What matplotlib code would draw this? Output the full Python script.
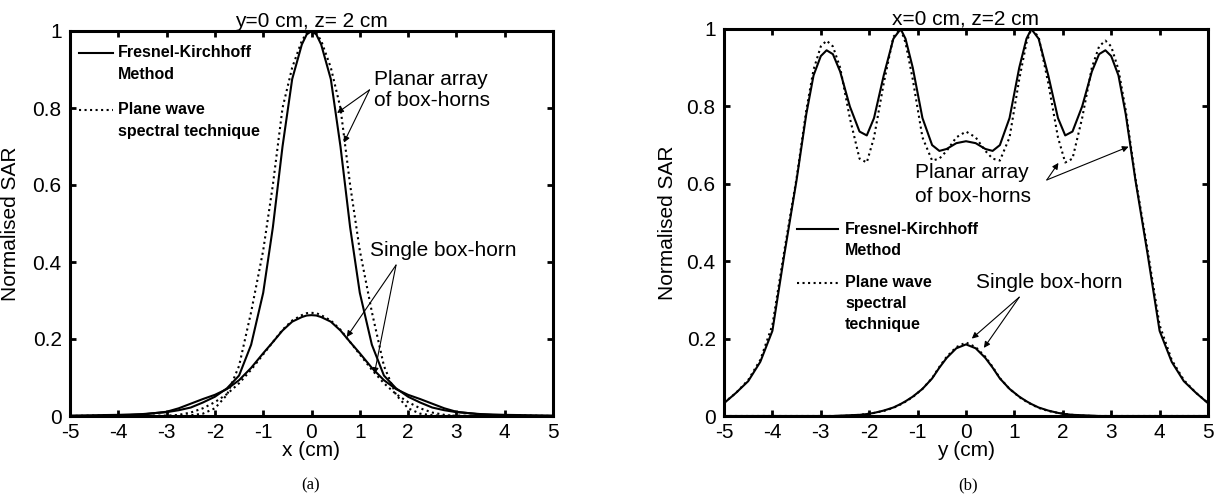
import matplotlib
matplotlib.use("Agg")
import matplotlib.pyplot as plt

# ---------------- data: panel (a), cut along x (y=0, z=2 cm) ----------------
xa = [-5.0, -4.5, -4.0, -3.5, -3.0, -2.75, -2.5, -2.25, -2.0, -1.75, -1.5, -1.25,
      -1.0, -0.8, -0.6, -0.4, -0.2, -0.1, 0.0, 0.1, 0.2, 0.4, 0.6, 0.8, 1.0,
      1.25, 1.5, 1.75, 2.0, 2.25, 2.5, 2.75, 3.0, 3.5, 4.0, 4.5, 5.0]
a_array_fk = [0.001, 0.002, 0.003, 0.005, 0.010, 0.015, 0.022, 0.035, 0.050, 0.072, 0.105, 0.185,
              0.320, 0.490, 0.700, 0.875, 0.965, 0.991, 1.000, 0.991, 0.965, 0.875, 0.700, 0.490, 0.320,
              0.185, 0.105, 0.072, 0.050, 0.035, 0.022, 0.015, 0.010, 0.005, 0.003, 0.002, 0.001]
a_array_pw = [0.000, 0.001, 0.002, 0.000, 0.001, 0.000, 0.002, 0.006, 0.020, 0.055, 0.130, 0.270,
              0.430, 0.600, 0.800, 0.905, 0.975, 0.994, 1.000, 0.994, 0.975, 0.905, 0.800, 0.600, 0.430,
              0.270, 0.130, 0.055, 0.020, 0.006, 0.002, 0.000, 0.001, 0.000, 0.002, 0.001, 0.000]
a_single_fk = [0.000, 0.000, 0.001, 0.004, 0.011, 0.020, 0.032, 0.044, 0.055, 0.070, 0.093, 0.125,
               0.163, 0.192, 0.222, 0.245, 0.257, 0.261, 0.262, 0.261, 0.257, 0.245, 0.222, 0.192, 0.163,
               0.125, 0.093, 0.070, 0.055, 0.044, 0.032, 0.020, 0.011, 0.004, 0.001, 0.000, 0.000]
a_single_pw = [0.000, 0.000, 0.000, 0.001, 0.000, 0.003, 0.009, 0.020, 0.036, 0.057, 0.085, 0.120,
               0.160, 0.192, 0.224, 0.248, 0.262, 0.267, 0.268, 0.267, 0.262, 0.248, 0.224, 0.192, 0.160,
               0.120, 0.085, 0.057, 0.036, 0.020, 0.009, 0.003, 0.000, 0.001, 0.000, 0.000, 0.000]

# ---------------- data: panel (b), cut along y (x=0, z=2 cm) ----------------
yb = [-5.0, -4.75, -4.5, -4.25, -4.0, -3.75, -3.5, -3.3, -3.15, -3.0, -2.88, -2.75,
      -2.6, -2.4, -2.2, -2.05, -1.9, -1.7, -1.5, -1.35, -1.25, -1.1, -0.9, -0.7,
      -0.55, -0.4, -0.2, 0.0, 0.2, 0.4, 0.55, 0.7, 0.9, 1.1, 1.25, 1.35,
      1.5, 1.7, 1.9, 2.05, 2.2, 2.4, 2.6, 2.75, 2.88, 3.0, 3.15, 3.3,
      3.5, 3.75, 4.0, 4.25, 4.5, 4.75, 5.0]
b_array_fk = [0.033, 0.060, 0.090, 0.140, 0.220, 0.420, 0.610, 0.780, 0.880, 0.930, 0.945, 0.935,
              0.890, 0.800, 0.735, 0.725, 0.770, 0.880, 0.975, 1.000, 0.975, 0.900, 0.770, 0.700,
              0.685, 0.690, 0.705, 0.710, 0.705, 0.690, 0.685, 0.700, 0.770, 0.900, 0.975, 1.000,
              0.975, 0.880, 0.770, 0.725, 0.735, 0.800, 0.890, 0.935, 0.945, 0.930, 0.880, 0.780,
              0.610, 0.420, 0.220, 0.140, 0.090, 0.060, 0.033]
b_array_pw = [0.034, 0.060, 0.093, 0.145, 0.235, 0.430, 0.615, 0.790, 0.895, 0.955, 0.970, 0.955,
              0.900, 0.770, 0.665, 0.655, 0.720, 0.860, 0.980, 1.000, 0.965, 0.870, 0.720, 0.660,
              0.665, 0.685, 0.720, 0.735, 0.720, 0.685, 0.665, 0.660, 0.720, 0.870, 0.965, 1.000,
              0.980, 0.860, 0.720, 0.655, 0.665, 0.770, 0.900, 0.955, 0.970, 0.955, 0.895, 0.790,
              0.615, 0.430, 0.235, 0.145, 0.093, 0.060, 0.034]
b_single_fk = [0.000, 0.000, 0.000, 0.000, 0.000, 0.000, 0.000, 0.000, 0.000, 0.000, 0.000, 0.000,
               0.001, 0.002, 0.003, 0.005, 0.008, 0.014, 0.022, 0.031, 0.038, 0.050, 0.070, 0.097,
               0.125, 0.150, 0.175, 0.185, 0.175, 0.150, 0.125, 0.097, 0.070, 0.050, 0.038, 0.031,
               0.022, 0.014, 0.008, 0.005, 0.003, 0.002, 0.001, 0.000, 0.000, 0.000, 0.000, 0.000,
               0.000, 0.000, 0.000, 0.000, 0.000, 0.000, 0.000]
b_single_pw = [0.000, 0.000, 0.000, 0.000, 0.000, 0.000, 0.000, 0.000, 0.000, 0.000, 0.000, 0.000,
               0.000, 0.001, 0.003, 0.005, 0.008, 0.013, 0.021, 0.030, 0.037, 0.049, 0.070, 0.098,
               0.127, 0.153, 0.178, 0.190, 0.178, 0.153, 0.127, 0.098, 0.070, 0.049, 0.037, 0.030,
               0.021, 0.013, 0.008, 0.005, 0.003, 0.001, 0.000, 0.000, 0.000, 0.000, 0.000, 0.000,
               0.000, 0.000, 0.000, 0.000, 0.000, 0.000, 0.000]

xticks = [-5, -4, -3, -2, -1, 0, 1, 2, 3, 4, 5]
yticks = [0, 0.2, 0.4, 0.6, 0.8, 1.0]
ytick_labels = ["0", "0.2", "0.4", "0.6", "0.8", "1"]
titles = ["y=0 cm, z= 2 cm", "x=0 cm, z=2 cm"]
xlabels = ["x (cm)", "y (cm)"]
panel_tags = ["(a)", "(b)"]
legend_fk = ["Fresnel-Kirchhoff", "Method"]
legend_pw_a = ["Plane wave", "spectral technique"]
legend_pw_b = ["Plane wave", "spectral", "technique"]

# ---------------- figure ----------------
plt.rcParams['font.family'] = ['Liberation Sans', 'DejaVu Sans']
W, H = 1229, 501
fig = plt.figure(figsize=(W / 100, H / 100), dpi=100)

def px_axes(l, t, r, b):
    return fig.add_axes([l / W, 1 - b / H, (r - l) / W, (b - t) / H])

axA = px_axes(70, 31, 553, 416)
axB = px_axes(724, 29, 1208, 416)

FS = 15
for ax, title, xl in zip([axA, axB], titles, xlabels):
    ax.set_xlim(-5, 5)
    ax.set_ylim(0, 1)
    ax.set_xticks(xticks)
    ax.set_xticklabels([str(t) for t in xticks])
    ax.set_yticks(yticks)
    ax.set_yticklabels(ytick_labels)
    ax.tick_params(direction='in', length=4, width=2, top=True, right=True, labelsize=FS)
    ax.tick_params(axis='x', pad=5)
    ax.tick_params(axis='y', pad=6)
    for s in ax.spines.values():
        s.set_linewidth(2.2)
    ax.set_title(title, fontsize=FS, pad=3)
    ax.set_xlabel(xl, fontsize=FS, labelpad=-1)
    ax.set_ylabel("Normalised SAR", fontsize=FS)

axA.yaxis.set_label_coords((20 - 70) / 483, 0.5)
axB.yaxis.set_label_coords((677 - 724) / 484, 0.5)

LW = 1.5
axA.plot(xa, a_array_fk, color='black', lw=LW, ls='-')
axA.plot(xa, a_array_pw, color='black', lw=LW, ls=':')
axA.plot(xa, a_single_fk, color='black', lw=LW, ls='-')
axA.plot(xa, a_single_pw, color='black', lw=LW, ls=':')

axB.plot(yb, b_array_fk, color='black', lw=LW, ls='-')
axB.plot(yb, b_array_pw, color='black', lw=LW, ls=':')
axB.plot(yb, b_single_fk, color='black', lw=LW, ls='-')
axB.plot(yb, b_single_pw, color='black', lw=LW, ls=':')

# ---------------- hand-made legends ----------------
def legend_block(ax, x0, x1, xt, y_fk, y_pw, pw_lines, dy):
    ax.plot([x0, x1], [y_fk, y_fk], color='black', lw=LW, ls='-')
    for i, t in enumerate(legend_fk):
        ax.text(xt, y_fk - i * dy, t, fontsize=11.5, fontweight='bold', va='center', ha='left')
    ax.plot([x0, x1], [y_pw, y_pw], color='black', lw=LW, ls=':')
    for i, t in enumerate(pw_lines):
        ax.text(xt, y_pw - i * dy, t, fontsize=11.5, fontweight='bold', va='center', ha='left')

legend_block(axA, -4.82, -4.1, -4.0, 0.943, 0.795, legend_pw_a, 0.055)
legend_block(axB, -3.5, -2.65, -2.5, 0.482, 0.344, legend_pw_b, 0.054)

# ---------------- annotations ----------------
arw = dict(arrowstyle='-|>', color='black', lw=0.8, mutation_scale=9, shrinkA=0, shrinkB=0)

axA.text(1.29, 0.873, "Planar array", fontsize=FS, va='center', ha='left')
axA.text(1.29, 0.820, "of box-horns", fontsize=FS, va='center', ha='left')
axA.annotate("", xy=(0.53, 0.787), xytext=(1.2, 0.847), arrowprops=arw)
axA.annotate("", xy=(0.67, 0.71), xytext=(1.2, 0.847), arrowprops=arw)

axA.text(1.22, 0.431, "Single box-horn", fontsize=FS, va='center', ha='left')
axA.annotate("", xy=(0.73, 0.205), xytext=(1.75, 0.392), arrowprops=arw)
axA.annotate("", xy=(1.30, 0.109), xytext=(1.75, 0.392), arrowprops=arw)

axB.text(-1.06, 0.630, "Planar array", fontsize=FS, va='center', ha='left')
axB.text(-1.06, 0.566, "of box-horns", fontsize=FS, va='center', ha='left')
axB.annotate("", xy=(1.91, 0.654), xytext=(1.67, 0.61), arrowprops=arw)
axB.annotate("", xy=(3.36, 0.696), xytext=(1.67, 0.61), arrowprops=arw)

axB.text(0.2, 0.344, "Single box-horn", fontsize=FS, va='center', ha='left')
axB.annotate("", xy=(0.12, 0.2), xytext=(1.1, 0.307), arrowprops=arw)
axB.annotate("", xy=(0.37, 0.176), xytext=(1.1, 0.307), arrowprops=arw)

fig.text(311 / W, 1 - 485 / H, panel_tags[0], fontsize=12, family=['Liberation Serif', 'DejaVu Serif'],
         ha='center', va='center')
fig.text(968 / W, 1 - 485 / H, panel_tags[1], fontsize=12, family=['Liberation Serif', 'DejaVu Serif'],
         ha='center', va='center')

fig.savefig("out.png", dpi=100)
